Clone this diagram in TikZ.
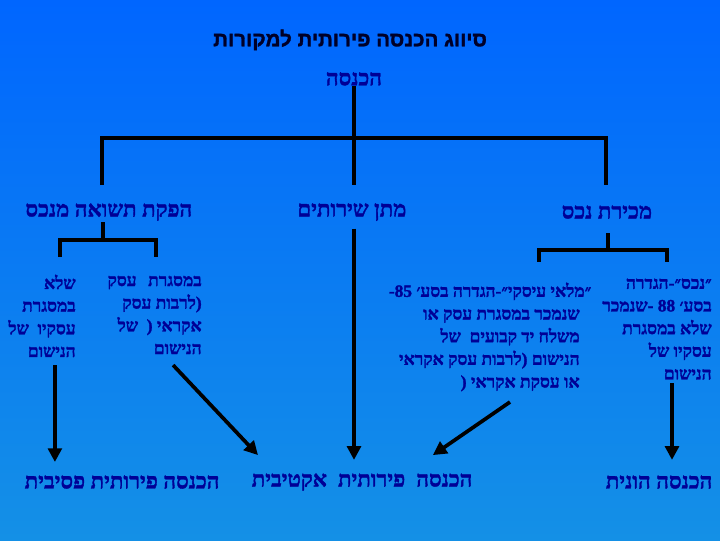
\documentclass[tikz,border=0pt]{standalone}
\usepackage{fontspec}
\setmainfont{Liberation Serif}
\newfontfamily\hebfont[Script=Hebrew, BoldFeatures={FakeBold=1.5}]{Liberation Serif}
\newfontfamily\headfont[Script=Hebrew, BoldFeatures={FakeBold=1.5}]{Liberation Sans}
\TeXXeTstate=1
\usetikzlibrary{arrows.meta}
\definecolor{bgtop}{RGB}{0,102,255}
\definecolor{bgbot}{RGB}{20,144,230}
\definecolor{ink}{RGB}{0,0,150}
\definecolor{headink}{RGB}{0,0,40}
\newcommand{\heb}[1]{\beginR #1\endR}

\begin{document}
\begin{tikzpicture}[
    lvl/.style = {text=ink, inner sep=0pt, font=\hebfont\bfseries\fontsize{21}{24}\selectfont},
    leaf/.style = {text=ink, inner sep=0pt, anchor=east, align=right, font=\hebfont\bfseries\fontsize{16.5}{21.5}\selectfont},
    branch/.style = {line width=3.5pt},
    arr/.style = {line width=3.5pt, -{Triangle[length=13pt,width=13pt]}}]
            \shade[top color=bgtop, bottom color=bgbot] (0,0) rectangle (24,18);
            % title and top
            \node[text=headink, font=\headfont\bfseries\fontsize{19.5}{22}\selectfont] (title) at (11.67,16.67) {\heb{סיווג הכנסה פירותית למקורות}};
            \node[lvl] (root) at (11.8,15.37) {\heb{הכנסה}};
            \node[lvl] (prod) at (3.63,10.93) {\heb{הפקת תשואה מנכס}};
            \node[lvl] (serv) at (11.73,10.93) {\heb{מתן שירותים}};
            \node[lvl] (sale) at (20.23,10.93) {\heb{מכירת נכס}};
            % leaves
            \node[leaf] (outbiz) at (2.53,7.47) {\heb{שלא}\\ \heb{במסגרת}\\ \heb{עסקיו\ \ של}\\ \heb{הנישום}};
            \node[leaf] (inbiz) at (6.73,7.5) {\heb{במסגרת\hspace{11pt}עסק}\\ \heb{(לרבות עסק}\\ \heb{אקראי (\ \ של}\\ \heb{הנישום}};
            \node[leaf] (stock) at (19.33,6.77) {\heb{״מלאי עיסקי״-הגדרה בסע׳ 85\kern0pt-}\kern-11pt\\ \heb{שנמכר במסגרת עסק או}\\ \heb{משלח יד קבועים\ \ של}\\ \heb{הנישום (לרבות עסק אקראי}\\ \heb{או עסקת אקראי (}};
            \node[leaf] (asset) at (23.73,7.03) {\heb{״נכס״-הגדרה}\\ \heb{בסע׳ 88 -שנמכר}\\ \heb{שלא במסגרת}\\ \heb{עסקיו של}\\ \heb{הנישום}};
            % results
            \node[lvl] (passive) at (4.07,1.93) {\heb{הכנסה פירותית פסיבית}};
            \node[lvl] (active) at (12.07,1.93) {\heb{הכנסה\ \ פירותית\ \ אקטיבית}};
            \node[lvl] (capital) at (21.97,1.93) {\heb{הכנסה הונית}};
            % tree
            \coordinate (barL) at (3.4,13.4);
            \coordinate (barR) at (20.2,13.4);
            \coordinate (footL) at (3.4,11.83);
            \coordinate (footM) at (11.8,11.83);
            \coordinate (footR) at (20.2,11.83);
            \draw[branch] (root.south) -- (footM);
            \draw[branch] (footL) -- (barL) -- (barR) -- (footR);
            \coordinate (prodTop) at (3.43,10.6);
            \coordinate (prodBar) at (3.43,10.0);
            \draw[branch] (prodTop) -- (prodBar);
            \draw[branch] (2.0,9.43) -- (2.0,10.0) -- (5.2,10.0) -- (5.2,9.43);
            \coordinate (saleTop) at (20.27,10.23);
            \coordinate (saleBar) at (20.27,9.67);
            \draw[branch] (saleTop) -- (saleBar);
            \draw[branch] (17.97,9.27) -- (17.97,9.67) -- (22.23,9.67) -- (22.23,9.27);
            % arrows
            \coordinate (passTail) at (1.83,5.83);
            \coordinate (passTip) at (1.83,2.6);
            \coordinate (actTail) at (5.77,5.83);
            \coordinate (actTip) at (8.6,2.83);
            \coordinate (servTip) at (11.8,2.67);
            \coordinate (stockTail) at (17.0,4.6);
            \coordinate (stockTip) at (14.43,2.83);
            \coordinate (capTail) at (22.4,5.23);
            \coordinate (capTip) at (22.4,2.67);
            \draw[arr] (passTail) -- (passTip);
            \draw[arr] (actTail) -- (actTip);
            \draw[arr] (serv.south -| servTip) ++(0,-0.25) -- (servTip);
            \draw[arr] (stockTail) -- (stockTip);
            \draw[arr] (capTail) -- (capTip);
        \end{tikzpicture}
\end{document}
